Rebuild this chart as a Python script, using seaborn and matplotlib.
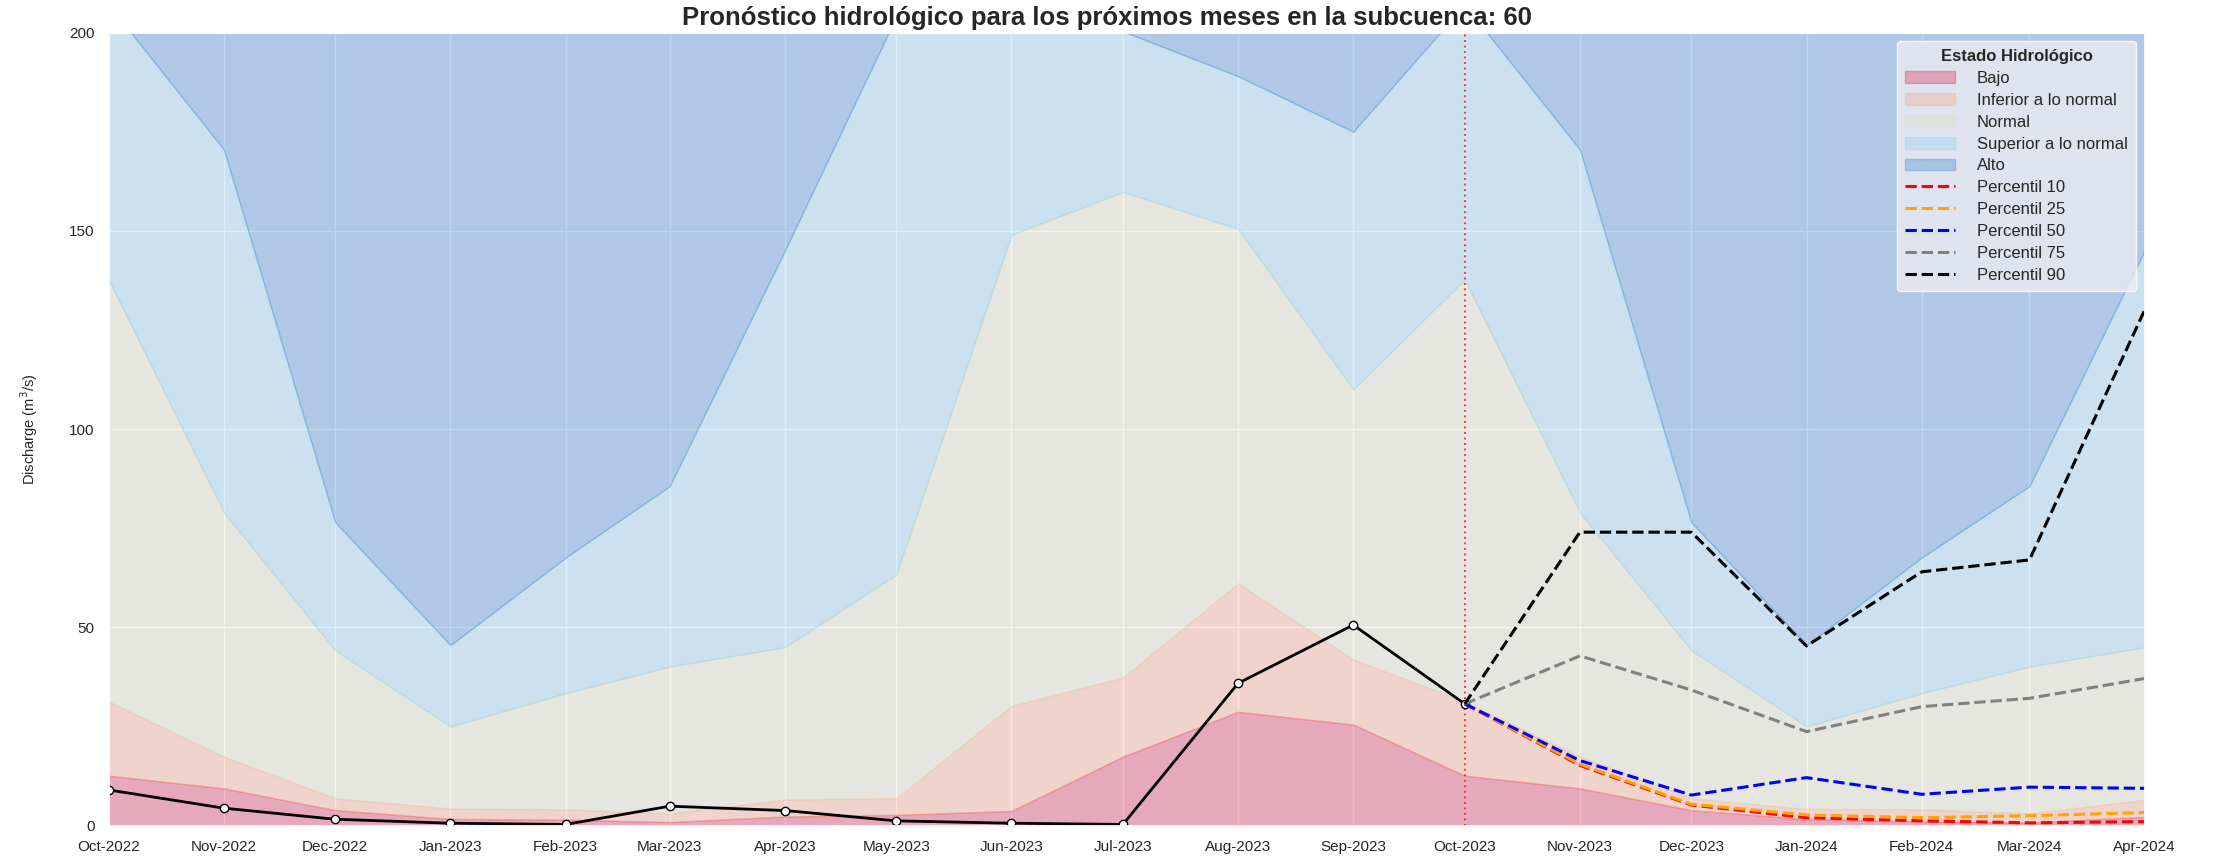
import numpy as np
import pandas as pd
import matplotlib
matplotlib.use("Agg")
import matplotlib.pyplot as plt
import matplotlib.dates as mdates
from matplotlib.ticker import MultipleLocator
import seaborn as sns

# ---------------- data ----------------
months = pd.date_range("2022-10-01", "2024-04-01", freq="MS")

# climatological thresholds (m3/s)
thr_p10 = [12.6, 9.4, 3.9, 1.7, 1.5, 0.9, 2.3, 2.7, 3.7, 17.4, 28.7, 25.5,
           12.6, 9.4, 3.9, 1.6, 1.0, 0.8, 2.2]
thr_p25 = [31.3, 17.4, 6.9, 4.3, 4.1, 3.1, 6.6, 6.9, 30.2, 37.3, 61.1, 41.9,
           31.3, 17.4, 6.9, 4.2, 4.1, 3.1, 6.5]
thr_p75 = [137.7, 79.0, 44.2, 25.0, 33.4, 40.1, 45.0, 63.3, 149.0, 159.8, 150.5, 110.0,
           137.7, 79.0, 44.2, 25.0, 33.4, 40.1, 45.0]
thr_p90 = [207.0, 170.5, 76.5, 45.5, 67.6, 85.6, 145.0, 204.0, 235.0, 200.3, 189.0, 175.0,
           207.0, 170.5, 76.5, 45.5, 67.6, 85.6, 145.0]
alto_top = 260.0

# observed discharge Oct-2022 .. Oct-2023
obs = [9.0, 4.4, 1.6, 0.6, 0.3, 4.9, 3.8, 1.2, 0.6, 0.3, 35.9, 50.6, 30.7]

# forecast percentiles Oct-2023 .. Apr-2024
fc_p10 = [30.7, 15.2, 5.2, 2.0, 1.2, 0.7, 1.0]
fc_p25 = [30.7, 15.5, 5.4, 2.7, 2.0, 2.5, 3.3]
fc_p50 = [30.7, 16.4, 7.7, 12.1, 7.9, 9.7, 9.4]
fc_p75 = [30.7, 42.8, 34.2, 23.7, 30.0, 32.1, 37.1]
fc_p90 = [30.7, 74.0, 74.0, 45.3, 64.0, 67.0, 130.0]

band_labels = ["Bajo", "Inferior a lo normal", "Normal", "Superior a lo normal", "Alto"]
band_colors = ["crimson", "lightsalmon", "#E0DDB8", "skyblue", "#2A7CC7"]
fc_labels = ["Percentil 10", "Percentil 25", "Percentil 50", "Percentil 75", "Percentil 90"]
fc_colors = ["red", "orange", "blue", "gray", "black"]

title = "Pronóstico hidrológico para los próximos meses en la subcuenca: 60"

# ---------------- plot ----------------
sns.set_theme(style="darkgrid")
plt.rcParams["font.family"] = ["Liberation Sans", "DejaVu Sans"]

fig, ax = plt.subplots(figsize=(22.13, 8.56), dpi=100)
fig.subplots_adjust(left=0.0491, right=0.9691, top=0.962, bottom=0.0355)

x = months
obs_x = months[:len(obs)]
fc_x = months[len(obs) - 1:]

lower = [np.zeros(len(x)), np.array(thr_p10), np.array(thr_p25), np.array(thr_p75), np.array(thr_p90)]
upper = [np.array(thr_p10), np.array(thr_p25), np.array(thr_p75), np.array(thr_p90),
         np.full(len(x), alto_top)]
for lo, hi, lab, col in zip(lower, upper, band_labels, band_colors):
    ax.fill_between(x, lo, hi, color=col, alpha=0.3, label=lab)

ax.axvline(months[len(obs) - 1], color="red", linestyle=":", linewidth=1.5, alpha=0.7)

sns.lineplot(x=obs_x, y=obs, ax=ax, color="black", linewidth=2, marker="o",
             markerfacecolor="white", markeredgecolor="black", markersize=6,
             markeredgewidth=1, legend=False)

for vals, lab, col in zip([fc_p10, fc_p25, fc_p50, fc_p75, fc_p90], fc_labels, fc_colors):
    sns.lineplot(x=fc_x, y=vals, ax=ax, color=col, linestyle="--", linewidth=2.2,
                 label=lab)

ax.set_xlim(months[0], months[-1])
ax.set_ylim(0, 200)
ax.yaxis.set_major_locator(MultipleLocator(50))
ax.xaxis.set_major_locator(mdates.MonthLocator())
ax.xaxis.set_major_formatter(mdates.DateFormatter("%b-%Y"))
ax.tick_params(axis="both", labelsize=11, colors="#262626", pad=4)
ax.set_xlabel("")
ax.set_ylabel("Discharge (m$^3$/s)", fontsize=10.5)
ax.yaxis.set_label_coords(-0.0335, 0.5)

leg = ax.legend(loc="upper right", title="Estado Hidrológico", fontsize=12,
                title_fontproperties={"weight": "bold", "size": 12},
                handlelength=3.0, handletextpad=1.3, labelspacing=0.41,
                borderpad=0.5)
leg.get_frame().set_edgecolor("white")

fig.suptitle(title, fontsize=18.5, fontweight="bold", color="#262626", y=0.979, va="center")

fig.savefig("out.png", dpi=100)
